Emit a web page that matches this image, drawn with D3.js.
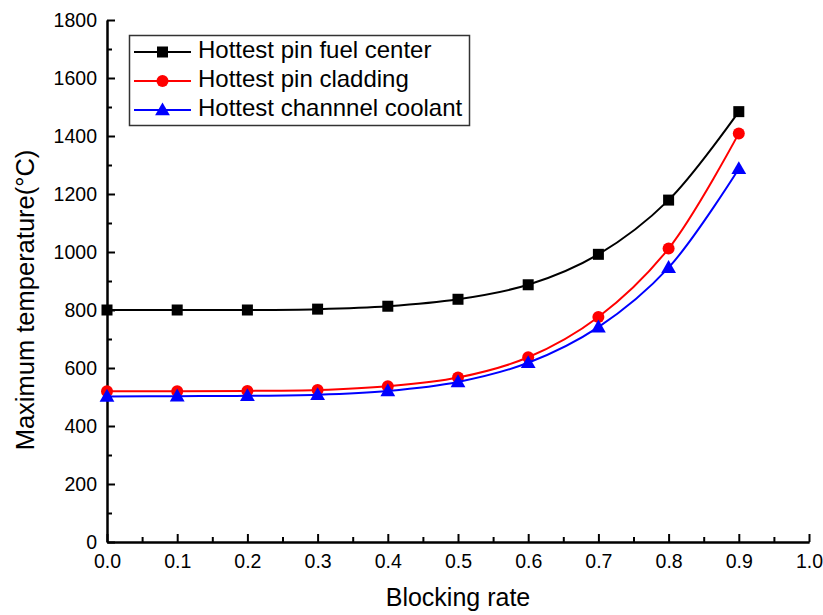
<!DOCTYPE html>
<html>
<head>
<meta charset="utf-8">
<script src="https://cdn.jsdelivr.net/npm/d3@7"></script>
<style>
  html, body { margin: 0; padding: 0; background: #fff; }
  svg { display: block; font-family: "Liberation Sans", Arial, sans-serif; }
</style>
</head>
<body>
<svg id="chart" width="823" height="615"></svg>
<script>
// Blocking rate on the x axis
const blockingRate = [0.0, 0.1, 0.2, 0.3, 0.4, 0.5, 0.6, 0.7, 0.8, 0.9];

// Maximum temperatures (°C)
const fuelCenter = [800, 800, 800, 803, 813, 837, 887, 992, 1179, 1484];
const cladding   = [520, 520, 521, 524, 537, 567, 637, 776, 1012, 1409];
const coolant    = [502, 503, 504, 508, 521, 552, 618, 741, 946, 1287];

const seriesNames = ["Hottest pin fuel center", "Hottest pin cladding", "Hottest channnel coolant"];
const seriesColors = ["#000000", "#ff0000", "#0000ff"];
const seriesShapes = ["square", "circle", "triangle"];

const xTicks = [0.0, 0.1, 0.2, 0.3, 0.4, 0.5, 0.6, 0.7, 0.8, 0.9, 1.0];
const yTicks = [0, 200, 400, 600, 800, 1000, 1200, 1400, 1600, 1800];

const svg = d3.select("#chart");
const plotLeft = 107, plotRight = 809, plotTop = 20, plotBottom = 542;

const x = d3.scaleLinear().domain([0, 1]).range([plotLeft, plotRight]);
const y = d3.scaleLinear().domain([0, 1800]).range([plotBottom, plotTop]);

// Axes: ticks pointing inward, minor ticks between majors
const xAxis = d3.axisBottom(x).tickValues(xTicks).tickFormat(d3.format(".1f"))
  .tickSizeInner(-8).tickSizeOuter(0).tickPadding(12);
const xMinor = d3.axisBottom(x).tickValues(d3.range(0.05, 1, 0.1)).tickFormat("")
  .tickSizeInner(-5).tickSizeOuter(0);
const yAxis = d3.axisLeft(y).tickValues(yTicks).tickFormat(d3.format("d"))
  .tickSizeInner(-8).tickSizeOuter(0).tickPadding(10);
const yMinor = d3.axisLeft(y).tickValues(d3.range(100, 1800, 200)).tickFormat("")
  .tickSizeInner(-5).tickSizeOuter(0);

function styleAxis(g) {
  g.select(".domain").attr("stroke", "#000").attr("stroke-width", 2);
  g.selectAll(".tick line").attr("stroke", "#000").attr("stroke-width", 2);
  g.selectAll(".tick text").attr("fill", "#000").style("font-size", "19.5px")
    .style("font-family", "'Liberation Sans', Arial, sans-serif");
}

svg.append("g").attr("transform", `translate(0,${plotBottom})`).call(xMinor).call(styleAxis);
svg.append("g").attr("transform", `translate(0,${plotBottom})`).call(xAxis).call(styleAxis);
svg.append("g").attr("transform", `translate(${plotLeft},0)`).call(yMinor).call(styleAxis);
svg.append("g").attr("transform", `translate(${plotLeft},0)`).call(yAxis).call(styleAxis);

// Axis titles
svg.append("text")
  .attr("x", (plotLeft + plotRight) / 2).attr("y", 606)
  .attr("text-anchor", "middle").style("font-size", "25px")
  .text("Blocking rate");
svg.append("text")
  .attr("transform", "translate(34,300) rotate(-90)")
  .attr("text-anchor", "middle").style("font-size", "25.5px")
  .text("Maximum temperature(°C)");

// Lines and markers
const seriesValues = [fuelCenter, cladding, coolant];
const line = d3.line()
  .x((d, i) => x(blockingRate[i]))
  .y(d => y(d))
  .curve(d3.curveCatmullRom.alpha(0.5));

function drawMarker(g, shape, color, cx, cy) {
  if (shape === "square") {
    g.append("rect").attr("x", cx - 5.5).attr("y", cy - 5.5)
      .attr("width", 11).attr("height", 11).attr("fill", color);
  } else if (shape === "circle") {
    g.append("circle").attr("cx", cx).attr("cy", cy).attr("r", 6).attr("fill", color);
  } else {
    const s = d3.symbol().type(d3.symbolTriangle).size(95);
    g.append("path").attr("d", s()).attr("transform", `translate(${cx},${cy + 1})`)
      .attr("fill", color);
  }
}

seriesValues.forEach((vals, k) => {
  const g = svg.append("g");
  g.append("path").datum(vals).attr("d", line)
    .attr("fill", "none").attr("stroke", seriesColors[k]).attr("stroke-width", 2);
  vals.forEach((v, i) => drawMarker(g, seriesShapes[k], seriesColors[k], x(blockingRate[i]), y(v)));
});

// Legend
const legend = svg.append("g");
legend.append("rect").attr("x", 129.5).attr("y", 35.5).attr("width", 340).attr("height", 90)
  .attr("fill", "#fff").attr("stroke", "#333").attr("stroke-width", 1.5);
seriesNames.forEach((name, k) => {
  const cy = 52 + k * 29;
  legend.append("line").attr("x1", 134).attr("x2", 191).attr("y1", cy).attr("y2", cy)
    .attr("stroke", seriesColors[k]).attr("stroke-width", 2);
  drawMarker(legend, seriesShapes[k], seriesColors[k], 162.5, cy);
  legend.append("text").attr("x", 198).attr("y", cy + 6).style("font-size", "24px").text(name);
});
</script>
</body>
</html>
